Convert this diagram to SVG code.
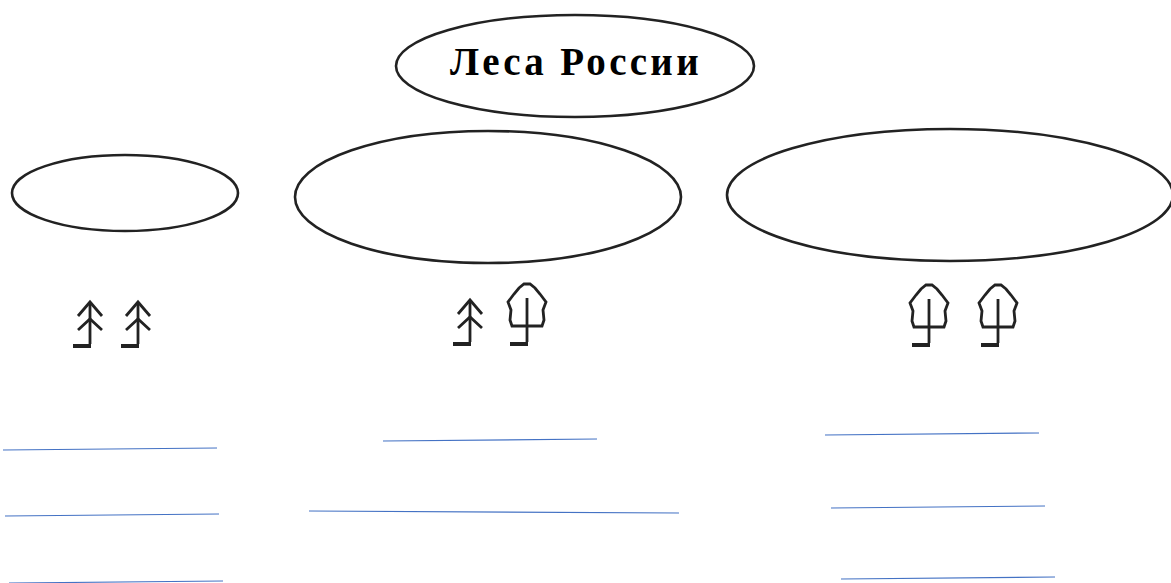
<svg xmlns="http://www.w3.org/2000/svg" width="1171" height="583" viewBox="0 0 1171 583">
<style>
.e{fill:#fff;stroke:#222;stroke-width:2.6}
.i{fill:none;stroke:#222;stroke-width:2.8}
.b{fill:none;stroke:#222;stroke-width:4}
.l{stroke:#4472c4;stroke-width:1.2;fill:none}
.t{font-family:"Liberation Serif",serif;font-weight:bold;font-size:39px;letter-spacing:3.3px;fill:#000}
</style>
<defs>
<g id="fir"><path class="i" d="M0 -44V-2"/><path class="b" d="M-17 0H1"/><path class="i" d="M-12 -30L0 -44L12 -30M-12 -16L0 -27L12 -16"/></g>
<g id="tree"><path class="i" d="M0 -46V-2"/><path class="b" d="M-17 0H1"/><path class="i" d="M-15 -18H15L17 -24L16 -34L19 -42L13 -50L8 -56L3 -60H-3L-8 -56L-13 -50L-19 -42L-16 -34L-17 -24Z"/></g>
</defs>
<g id="node-title"><ellipse class="e" cx="575" cy="66" rx="179" ry="51"/><text class="t" x="576" y="75" text-anchor="middle">Леса России</text></g>
<g id="node-left"><ellipse class="e" cx="125" cy="193" rx="113" ry="38"/></g>
<g id="node-middle"><ellipse class="e" cx="488" cy="197" rx="193" ry="66"/></g>
<g id="node-right"><ellipse class="e" cx="950" cy="195" rx="223" ry="66"/></g>
<g id="icons">
<use href="#fir" x="90" y="346"/><use href="#fir" x="138" y="346"/>
<use href="#fir" x="470" y="344"/><use href="#tree" x="527" y="344"/>
<use href="#tree" x="929" y="345"/><use href="#tree" x="998" y="345"/>
</g>
<g id="connectors">
<path class="l" d="M3 450L217 448M5 516L219 514M9 583L223 581M383 441L597 439M309 511L679 513M825 435L1039 433M831 508L1045 506M841 579L1055 577"/>
</g>
</svg>
